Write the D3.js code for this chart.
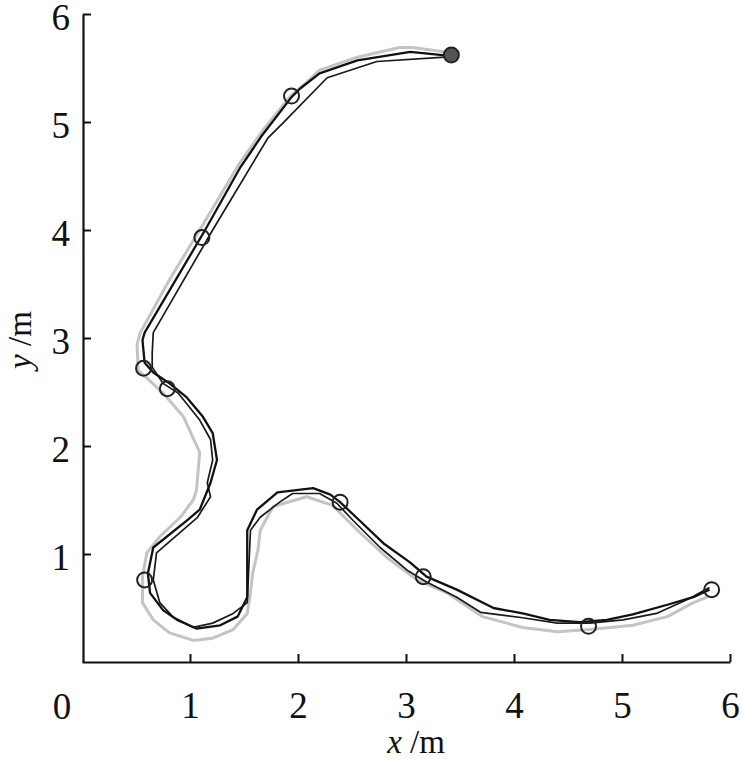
<!DOCTYPE html>
<html>
<head>
<meta charset="utf-8">
<script src="https://cdn.jsdelivr.net/npm/d3@7"></script>
<style>
  html, body { margin: 0; padding: 0; background: #fff; }
  svg { display: block; }
  text { font-family: "Liberation Serif", "Times New Roman", serif; fill: #111; }
</style>
</head>
<body>
<svg id="chart" width="742" height="759"></svg>
<script>
// ---------- data (metres) ----------
const xTicks = [1, 2, 3, 4, 5, 6];
const yTicks = [1, 2, 3, 4, 5, 6];

// reference path (grey)
const refX = [3.43,3.06,2.94,2.55,2.20,2.05,1.94,1.68,1.46,1.09,0.81,0.54,0.51,0.52,0.60,0.75,0.94,1.09,1.06,1.03,0.91,0.72,0.60,0.56,0.56,0.66,0.81,1.03,1.21,1.40,1.53,1.56,1.58,1.63,1.65,1.77,2.08,2.32,2.55,2.82,3.10,3.38,3.71,4.08,4.40,4.70,5.10,5.42,5.66,5.79];
const refY = [5.64,5.69,5.69,5.60,5.48,5.34,5.25,4.93,4.62,4.00,3.54,3.05,2.94,2.70,2.63,2.49,2.27,1.94,1.59,1.50,1.34,1.16,1.01,0.79,0.55,0.39,0.27,0.20,0.22,0.30,0.45,0.64,0.82,1.04,1.22,1.44,1.53,1.45,1.22,0.97,0.76,0.64,0.42,0.32,0.28,0.30,0.34,0.42,0.55,0.60];

// tracked path A (thick black)
const aX = [3.43,3.04,2.55,2.20,2.02,1.94,1.67,1.46,1.14,0.58,0.56,0.58,0.66,0.81,0.97,1.12,1.21,1.25,1.19,1.09,0.97,0.66,0.61,0.63,0.75,0.88,1.06,1.28,1.44,1.53,1.53,1.62,1.81,2.14,2.30,2.39,2.57,2.79,3.04,3.19,3.47,3.81,4.08,4.33,4.61,4.86,5.10,5.42,5.66,5.81];
const aY = [5.61,5.65,5.57,5.45,5.31,5.23,4.88,4.57,4.00,3.05,2.98,2.77,2.68,2.58,2.45,2.27,2.12,1.87,1.66,1.41,1.31,1.06,0.82,0.64,0.48,0.39,0.31,0.34,0.42,0.60,1.22,1.41,1.57,1.61,1.55,1.48,1.31,1.10,0.92,0.79,0.67,0.50,0.45,0.39,0.37,0.39,0.44,0.53,0.60,0.67];

// tracked path B (thin black)
const bX = [3.36,2.73,2.27,1.86,1.72,1.21,0.66,0.65,0.65,0.75,0.89,1.09,1.19,1.21,1.16,1.19,1.07,0.69,0.66,0.72,0.84,1.03,1.21,1.40,1.53,1.56,1.65,1.83,1.95,2.20,2.36,2.51,2.76,3.01,3.19,3.47,3.69,4.08,4.40,4.70,5.01,5.32,5.63,5.81];
const bY = [5.60,5.56,5.41,4.99,4.85,4.00,3.05,2.86,2.73,2.58,2.49,2.24,2.06,1.87,1.66,1.53,1.34,1.01,0.76,0.55,0.42,0.32,0.36,0.45,0.55,1.22,1.34,1.48,1.56,1.56,1.47,1.31,1.06,0.85,0.74,0.60,0.46,0.41,0.36,0.36,0.39,0.45,0.59,0.69];

// waypoints
const wpX = [3.42,1.94,1.11,0.57,0.79,0.58,2.39,3.16,4.69,5.83];
const wpY = [5.62,5.24,3.93,2.72,2.53,0.76,1.48,0.79,0.33,0.67];

// ---------- chart ----------
const svg = d3.select("#chart");
const x = d3.scaleLinear().domain([0, 6]).range([82, 730]);
const y = d3.scaleLinear().domain([0, 6]).range([662, 14]);

const zip = (xs, ys) => xs.map((v, i) => [v, ys[i]]);
const line = d3.line().x(d => x(d[0])).y(d => y(d[1]));

svg.append("path").datum(zip(refX, refY))
  .attr("d", line).attr("fill", "none")
  .attr("stroke", "#c4c4c4").attr("stroke-width", 3).attr("stroke-linejoin", "round");

svg.append("path").datum(zip(bX, bY))
  .attr("d", line).attr("fill", "none")
  .attr("stroke", "#1a1a1a").attr("stroke-width", 1.7).attr("stroke-linejoin", "round");

svg.append("path").datum(zip(aX, aY))
  .attr("d", line).attr("fill", "none")
  .attr("stroke", "#111").attr("stroke-width", 2.3).attr("stroke-linejoin", "round");

svg.selectAll("circle.wp").data(zip(wpX, wpY)).enter().append("circle")
  .attr("class", "wp")
  .attr("cx", d => x(d[0])).attr("cy", d => y(d[1])).attr("r", 7.5)
  .attr("fill", (d, i) => i === 0 ? "#555" : "none")
  .attr("stroke", "#222").attr("stroke-width", 2);

// axes
const fmt = d3.format("d");
const xAxis = d3.axisBottom(x).tickValues(xTicks).tickFormat(fmt).tickSizeInner(-8).tickSizeOuter(0).tickPadding(22);
const yAxis = d3.axisLeft(y).tickValues(yTicks).tickFormat(fmt).tickSizeInner(-8).tickSizeOuter(0).tickPadding(13);

const gx = svg.append("g").attr("transform", "translate(0,662)").call(xAxis);
const gy = svg.append("g").attr("transform", "translate(83,0)").call(yAxis);

[gx, gy].forEach(g => {
  g.attr("font-family", null).attr("font-size", null);
  g.select(".domain").attr("stroke", "#111").attr("stroke-width", 2.2);
  g.selectAll(".tick line").attr("stroke", "#111").attr("stroke-width", 2);
  g.selectAll(".tick text").attr("font-size", 37)
    .attr("font-family", "'Liberation Serif', 'Times New Roman', serif").attr("fill", "#111");
});
gx.selectAll(".tick text").attr("dy", "0.71em").attr("y", 30);
gy.selectAll(".tick text").attr("dy", "0.42em");

// corner origin label
svg.append("text").attr("x", 62).attr("y", 719).attr("text-anchor", "middle")
  .attr("font-size", 37).text("0");

// axis titles
const xt = svg.append("text").attr("x", 416).attr("y", 753).attr("text-anchor", "middle").attr("font-size", 33);
xt.append("tspan").attr("font-style", "italic").text("x");
xt.append("tspan").text(" /m");

const yt = svg.append("text").attr("transform", "translate(31,340) rotate(-90)")
  .attr("text-anchor", "middle").attr("font-size", 33);
yt.append("tspan").attr("font-style", "italic").text("y");
yt.append("tspan").text(" /m");
</script>
</body>
</html>
